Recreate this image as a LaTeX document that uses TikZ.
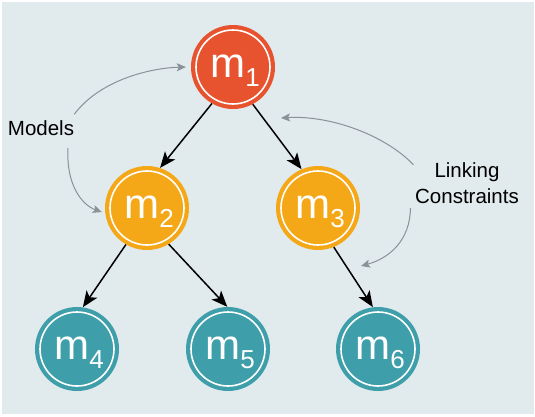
\documentclass[tikz,border=0pt]{standalone}
\usepackage{fontspec}
\setmainfont{Liberation Sans}
\usetikzlibrary{arrows.meta}
\definecolor{bgc}{HTML}{E1EAED}
\definecolor{redc}{HTML}{E8532F}
\definecolor{orc}{HTML}{F5A817}
\definecolor{tealc}{HTML}{3E9FAB}
\definecolor{grayc}{HTML}{8A9297}
\newcommand{\mlab}[1]{\kern4pt m\raisebox{-9pt}{\fontsize{26}{26}\selectfont #1}}
\begin{document}
\begin{tikzpicture}[x=1pt,y=-1pt,
  mnode/.style={circle,minimum size=84pt,inner sep=0pt,text=white,
    font=\fontsize{42}{42}\selectfont,text height=25pt,text depth=5pt},
  ring/.style={draw=white,line width=1.6pt},
  tree/.style={line width=1.5pt,-{Stealth[length=16pt,width=13pt,inset=4pt]}},
  hint/.style={draw=grayc,line width=1pt,-{Stealth[length=9pt,width=8pt,inset=2pt]},fill=none},
  lbl/.style={font=\fontsize{20.5}{26}\selectfont,inner sep=0pt,align=center}]
\fill[white] (0,0) rectangle (535,416);
\fill[bgc] (1.5,1.5) rectangle (533.5,414);
\useasboundingbox (0,0) rectangle (535,416);
% nodes
\node[mnode,fill=redc] (m1) at (233,67) {\mlab{1}};
\node[mnode,fill=orc] (m2) at (147,208) {\mlab{2}};
\node[mnode,fill=orc] (m3) at (318,208) {\mlab{3}};
\node[mnode,fill=tealc] (m4) at (77,349) {\mlab{4}};
\node[mnode,fill=tealc] (m5) at (228,349) {\mlab{5}};
\node[mnode,fill=tealc] (m6) at (378,349) {\mlab{6}};
\foreach \n in {m1,m2,m3,m4,m5,m6} \draw[ring] (\n.center) circle (37pt);
% tree edges
\draw[tree] (m1.240) -- (m2.72);
\draw[tree] (m1.298) -- (m3.113);
\draw[tree] (m2.240) -- (m4.82);
\draw[tree] (m2.301) -- (m5.91);
\draw[tree] (m3.292) -- (m6.97);
% labels
\node[lbl] (models) at (41,128) {Models};
\node[lbl] (links) at (467,183) {Linking\\Constraints};
\coordinate (e13) at (281,118);
\coordinate (e36) at (361,266);
% hint arrows
\draw[hint] ([shift={(0,-6)}]models.north east) .. controls (100,80) and (150,68) .. ([xshift=-5pt]m1.west);
\draw[hint] ([shift={(27,12.5)}]models.south) .. controls (66,185) and (82,205) .. ([shift={(-3,4)}]m2.west);
\draw[hint] ([shift={(-1.5,2.5)}]links.north west) .. controls (385,135) and (330,115) .. (e13);
\draw[hint] ([shift={(-4.5,4.5)}]links.south west) .. controls (410,240) and (390,258) .. (e36);
\end{tikzpicture}
\end{document}
